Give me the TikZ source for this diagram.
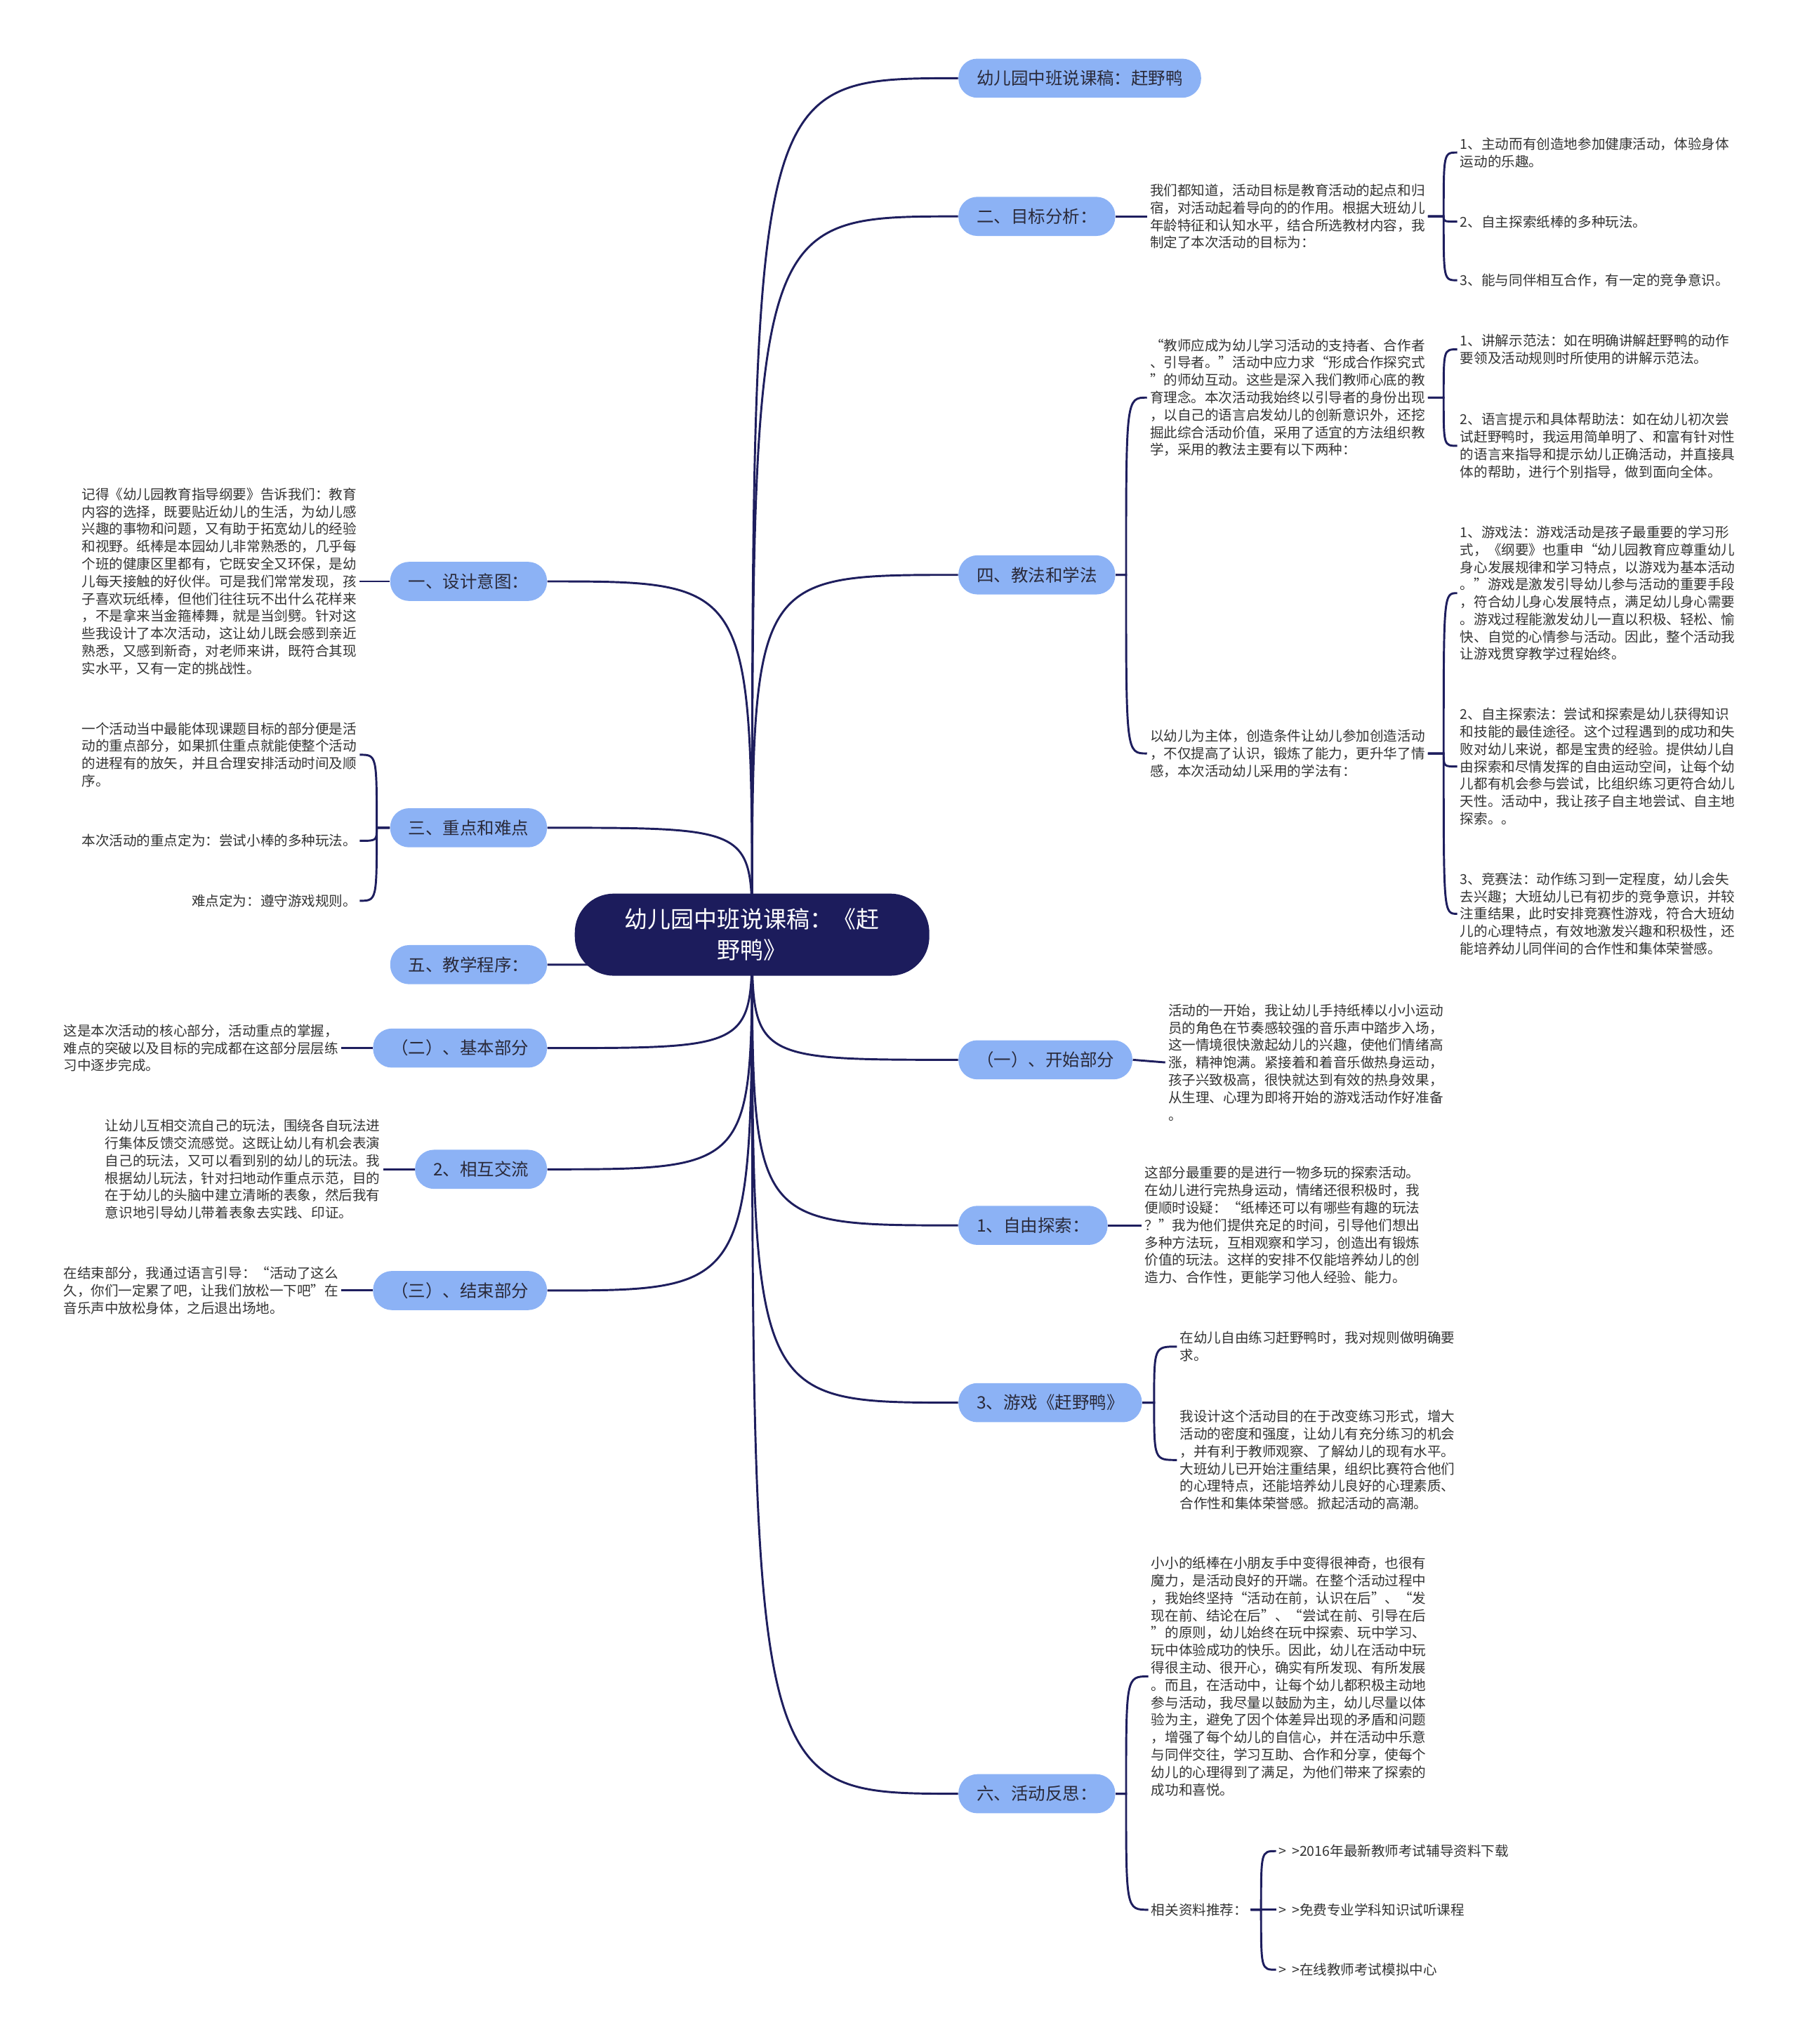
\documentclass[tikz,border=0pt]{standalone}
\usepackage{fontspec}
\setmainfont{Noto Sans CJK SC}
\usepackage{xcolor}
\usetikzlibrary{positioning,backgrounds}

\definecolor{rootnavy}{HTML}{1C1C5C}
\definecolor{linknavy}{HTML}{1E1E5E}
\definecolor{pillblue}{HTML}{8CB2F5}
\definecolor{pilltext}{HTML}{2A2A3A}
\definecolor{leafgray}{HTML}{333333}

\begin{document}
\begin{tikzpicture}[
    x=0.2mm, y=-0.2mm,
    topic/.style={
      fill=rootnavy, text=white, rounded corners=6mm,
      minimum width=54.4mm, minimum height=12.6mm,
      align=center, font=\fontsize{10.1}{13.6}\selectfont
    },
    pill/.style={
      fill=pillblue, text=pilltext, rounded corners=2.9mm,
      minimum height=6mm, inner xsep=2.8mm, inner ysep=0pt,
      font=\fontsize{7.5}{9}\selectfont
    },
    leaf/.style={
      text=leafgray, align=left, inner sep=0.4mm,
      font=\fontsize{6}{7.6}\selectfont
    },
    link/.style={draw=linknavy, line width=0.9pt},
    branch/.style={to path={.. controls (\tikztostart |- \tikztotarget) .. (\tikztotarget)}},
    fork/.style={to path={-- ++(#1,0) coordinate (fk) .. controls (fk |- \tikztotarget) .. (\tikztotarget)}}
  ]

    \useasboundingbox (0,0) rectangle (1379,1568);

    % Centre topic
    \node[topic] (root) at (577,717) {幼儿园中班说课稿：《赶\\野鸭》};

    % Main branches (right)
    \node[pill, anchor=west] (title)   at (735,60)   {幼儿园中班说课稿：赶野鸭};
    \node[pill, anchor=west] (goal)    at (735,166)  {二、目标分析：};
    \node[pill, anchor=west] (method)  at (735,441)  {四、教法和学法};
    \node[pill, anchor=west] (start)   at (735,813)  {（一）、开始部分};
    \node[pill, anchor=west] (explore) at (735,940)  {1、自由探索：};
    \node[pill, anchor=west] (game)    at (735,1076) {3、游戏《赶野鸭》};
    \node[pill, anchor=west] (reflect) at (735,1376) {六、活动反思：};

    % Main branches (left)
    \node[pill, anchor=east] (design)  at (420,446)  {一、设计意图：};
    \node[pill, anchor=east] (keypt)   at (420,635)  {三、重点和难点};
    \node[pill, anchor=east] (steps)   at (420,740)  {五、教学程序：};
    \node[pill, anchor=east] (basic)   at (420,804)  {（二）、基本部分};
    \node[pill, anchor=east] (exch)    at (420,897)  {2、相互交流};
    \node[pill, anchor=east] (ending)  at (420,990)  {（三）、结束部分};

    % Goals
    \node[leaf, anchor=west] (goaltxt) at (880,166) {我们都知道，活动目标是教育活动的起点和归\\
      宿，对活动起着导向的的作用。根据大班幼儿\\
      年龄特征和认知水平，结合所选教材内容，我\\
      制定了本次活动的目标为：};
    \node[leaf, anchor=west] (g1) at (1118,117) {1、主动而有创造地参加健康活动，体验身体\\
      运动的乐趣。};
    \node[leaf, anchor=west] (g2) at (1118,170) {2、自主探索纸棒的多种玩法。};
    \node[leaf, anchor=west] (g3) at (1118,215) {3、能与同伴相互合作，有一定的竞争意识。};

    % Teaching and learning methods
    \node[leaf, anchor=west] (teach) at (880,305) {“教师应成为幼儿学习活动的支持者、合作者\\
      、引导者。”活动中应力求“形成合作探究式\\
      ”的师幼互动。这些是深入我们教师心底的教\\
      育理念。本次活动我始终以引导者的身份出现\\
      ，以自己的语言启发幼儿的创新意识外，还挖\\
      掘此综合活动价值，采用了适宜的方法组织教\\
      学，采用的教法主要有以下两种：};
    \node[leaf, anchor=west] (ta1) at (1118,268) {1、讲解示范法：如在明确讲解赶野鸭的动作\\
      要领及活动规则时所使用的讲解示范法。};
    \node[leaf, anchor=west] (ta2) at (1118,342) {2、语言提示和具体帮助法：如在幼儿初次尝\\
      试赶野鸭时，我运用简单明了、和富有针对性\\
      的语言来指导和提示幼儿正确活动，并直接具\\
      体的帮助，进行个别指导，做到面向全体。};

    \node[leaf, anchor=west] (learn) at (880,578) {以幼儿为主体，创造条件让幼儿参加创造活动\\
      ，不仅提高了认识，锻炼了能力，更升华了情\\
      感，本次活动幼儿采用的学法有：};
    \node[leaf, anchor=west] (lb1) at (1118,455) {1、游戏法：游戏活动是孩子最重要的学习形\\
      式，《纲要》也重申“幼儿园教育应尊重幼儿\\
      身心发展规律和学习特点，以游戏为基本活动\\
      。”游戏是激发引导幼儿参与活动的重要手段\\
      ，符合幼儿身心发展特点，满足幼儿身心需要\\
      。游戏过程能激发幼儿一直以积极、轻松、愉\\
      快、自觉的心情参与活动。因此，整个活动我\\
      让游戏贯穿教学过程始终。};
    \node[leaf, anchor=west] (lb2) at (1118,588) {2、自主探索法：尝试和探索是幼儿获得知识\\
      和技能的最佳途径。这个过程遇到的成功和失\\
      败对幼儿来说，都是宝贵的经验。提供幼儿自\\
      由探索和尽情发挥的自由运动空间，让每个幼\\
      儿都有机会参与尝试，比组织练习更符合幼儿\\
      天性。活动中，我让孩子自主地尝试、自主地\\
      探索。。};
    \node[leaf, anchor=west] (lb3) at (1118,701) {3、竞赛法：动作练习到一定程度，幼儿会失\\
      去兴趣；大班幼儿已有初步的竞争意识，并较\\
      注重结果，此时安排竞赛性游戏，符合大班幼\\
      儿的心理特点，有效地激发兴趣和积极性，还\\
      能培养幼儿同伴间的合作性和集体荣誉感。};

    % Procedure parts (right)
    \node[leaf, anchor=west] (starttxt) at (894,815) {活动的一开始，我让幼儿手持纸棒以小小运动\\
      员的角色在节奏感较强的音乐声中踏步入场，\\
      这一情境很快激起幼儿的兴趣，使他们情绪高\\
      涨，精神饱满。紧接着和着音乐做热身运动，\\
      孩子兴致极高，很快就达到有效的热身效果，\\
      从生理、心理为即将开始的游戏活动作好准备\\
      。};
    \node[leaf, anchor=west] (exploretxt) at (876,940) {这部分最重要的是进行一物多玩的探索活动。\\
      在幼儿进行完热身运动，情绪还很积极时，我\\
      便顺时设疑：“纸棒还可以有哪些有趣的玩法\\
      ？”我为他们提供充足的时间，引导他们想出\\
      多种方法玩，互相观察和学习，创造出有锻炼\\
      价值的玩法。这样的安排不仅能培养幼儿的创\\
      造力、合作性，更能学习他人经验、能力。};
    \node[leaf, anchor=west] (gm1) at (903,1033) {在幼儿自由练习赶野鸭时，我对规则做明确要\\
      求。};
    \node[leaf, anchor=west] (gm2) at (903,1120) {我设计这个活动目的在于改变练习形式，增大\\
      活动的密度和强度，让幼儿有充分练习的机会\\
      ，并有利于教师观察、了解幼儿的现有水平。\\
      大班幼儿已开始注重结果，组织比赛符合他们\\
      的心理特点，还能培养幼儿良好的心理素质、\\
      合作性和集体荣誉感。掀起活动的高潮。};

    % Reflection
    \node[leaf, anchor=west] (rf1) at (881,1286) {小小的纸棒在小朋友手中变得很神奇，也很有\\
      魔力，是活动良好的开端。在整个活动过程中\\
      ，我始终坚持“活动在前，认识在后”、“发\\
      现在前、结论在后”、“尝试在前、引导在后\\
      ”的原则，幼儿始终在玩中探索、玩中学习、\\
      玩中体验成功的快乐。因此，幼儿在活动中玩\\
      得很主动、很开心，确实有所发现、有所发展\\
      。而且，在活动中，让每个幼儿都积极主动地\\
      参与活动，我尽量以鼓励为主，幼儿尽量以体\\
      验为主，避免了因个体差异出现的矛盾和问题\\
      ，增强了每个幼儿的自信心，并在活动中乐意\\
      与同伴交往，学习互助、合作和分享，使每个\\
      幼儿的心理得到了满足，为他们带来了探索的\\
      成功和喜悦。};
    \node[leaf, anchor=west] (rf2) at (881,1465) {相关资料推荐：};
    \node[leaf, anchor=west] (res1) at (979,1420) {>\hspace{0.8mm}>2016年最新教师考试辅导资料下载};
    \node[leaf, anchor=west] (res2) at (979,1465) {>\hspace{0.8mm}>免费专业学科知识试听课程};
    \node[leaf, anchor=west] (res3) at (979,1511) {>\hspace{0.8mm}>在线教师考试模拟中心};

    % Left side texts
    \node[leaf, anchor=east] (designtxt) at (276,446) {记得《幼儿园教育指导纲要》告诉我们：教育\\
      内容的选择，既要贴近幼儿的生活，为幼儿感\\
      兴趣的事物和问题，又有助于拓宽幼儿的经验\\
      和视野。纸棒是本园幼儿非常熟悉的，几乎每\\
      个班的健康区里都有，它既安全又环保，是幼\\
      儿每天接触的好伙伴。可是我们常常发现，孩\\
      子喜欢玩纸棒，但他们往往玩不出什么花样来\\
      ，不是拿来当金箍棒舞，就是当剑劈。针对这\\
      些我设计了本次活动，这让幼儿既会感到亲近\\
      熟悉，又感到新奇，对老师来讲，既符合其现\\
      实水平，又有一定的挑战性。};
    \node[leaf, anchor=east] (key1) at (276,579) {一个活动当中最能体现课题目标的部分便是活\\
      动的重点部分，如果抓住重点就能使整个活动\\
      的进程有的放矢，并且合理安排活动时间及顺\\
      序。};
    \node[leaf, anchor=east] (key2) at (276,645) {本次活动的重点定为：尝试小棒的多种玩法。};
    \node[leaf, anchor=east] (key3) at (276,691) {难点定为：遵守游戏规则。};
    \node[leaf, anchor=east] (basictxt) at (262,804) {这是本次活动的核心部分，活动重点的掌握，\\
      难点的突破以及目标的完成都在这部分层层练\\
      习中逐步完成。};
    \node[leaf, anchor=east] (exchtxt) at (294,897) {让幼儿互相交流自己的玩法，围绕各自玩法进\\
      行集体反馈交流感觉。这既让幼儿有机会表演\\
      自己的玩法，又可以看到别的幼儿的玩法。我\\
      根据幼儿玩法，针对扫地动作重点示范，目的\\
      在于幼儿的头脑中建立清晰的表象，然后我有\\
      意识地引导幼儿带着表象去实践、印证。};
    \node[leaf, anchor=east] (endtxt) at (262,990) {在结束部分，我通过语言引导：“活动了这么\\
      久，你们一定累了吧，让我们放松一下吧”在\\
      音乐声中放松身体，之后退出场地。};

    % Curves: centre -> main branches
    \begin{scope}[on background layer]
      \draw[link] (root.center) to[branch] (title.west);
      \draw[link] (root.center) to[branch] (goal.west);
      \draw[link] (root.center) to[branch] (method.west);
      \draw[link] (root.center) to[branch] (start.west);
      \draw[link] (root.center) to[branch] (explore.west);
      \draw[link] (root.center) to[branch] (game.west);
      \draw[link] (root.center) to[branch] (reflect.west);
      \draw[link] (root.center) to[branch] (design.east);
      \draw[link] (root.center) to[branch] (keypt.east);
      \draw[link] (root.center) to[branch] (steps.east);
      \draw[link] (root.center) to[branch] (basic.east);
      \draw[link] (root.center) to[branch] (exch.east);
      \draw[link] (root.center) to[branch] (ending.east);
    \end{scope}

    % Branches -> texts
    \draw[link] (goal.east) -- (goaltxt.west);
    \draw[link] (goaltxt.east) to[fork=12] (g1.west);
    \draw[link] (goaltxt.east) to[fork=12] (g2.west);
    \draw[link] (goaltxt.east) to[fork=12] (g3.west);

    \draw[link] (method.east) to[fork=8] (teach.west);
    \draw[link] (method.east) to[fork=8] (learn.west);
    \draw[link] (teach.east) to[fork=12] (ta1.west);
    \draw[link] (teach.east) to[fork=12] (ta2.west);
    \draw[link] (learn.east) to[fork=12] (lb1.west);
    \draw[link] (learn.east) to[fork=12] (lb2.west);
    \draw[link] (learn.east) to[fork=12] (lb3.west);

    \draw[link] (start.east) -- (starttxt.west);
    \draw[link] (explore.east) -- (exploretxt.west);
    \draw[link] (game.east) to[fork=9] (gm1.west);
    \draw[link] (game.east) to[fork=9] (gm2.west);

    \draw[link] (reflect.east) to[fork=8] (rf1.west);
    \draw[link] (reflect.east) to[fork=8] (rf2.west);
    \draw[link] (rf2.east) to[fork=8] (res1.west);
    \draw[link] (rf2.east) to[fork=8] (res2.west);
    \draw[link] (rf2.east) to[fork=8] (res3.west);

    \draw[link] (design.west) -- (designtxt.east);
    \draw[link] (keypt.west) to[fork=-10] (key1.east);
    \draw[link] (keypt.west) to[fork=-10] (key2.east);
    \draw[link] (keypt.west) to[fork=-10] (key3.east);
    \draw[link] (basic.west) -- (basictxt.east);
    \draw[link] (exch.west) -- (exchtxt.east);
    \draw[link] (ending.west) -- (endtxt.east);

  \end{tikzpicture}
\end{document}
